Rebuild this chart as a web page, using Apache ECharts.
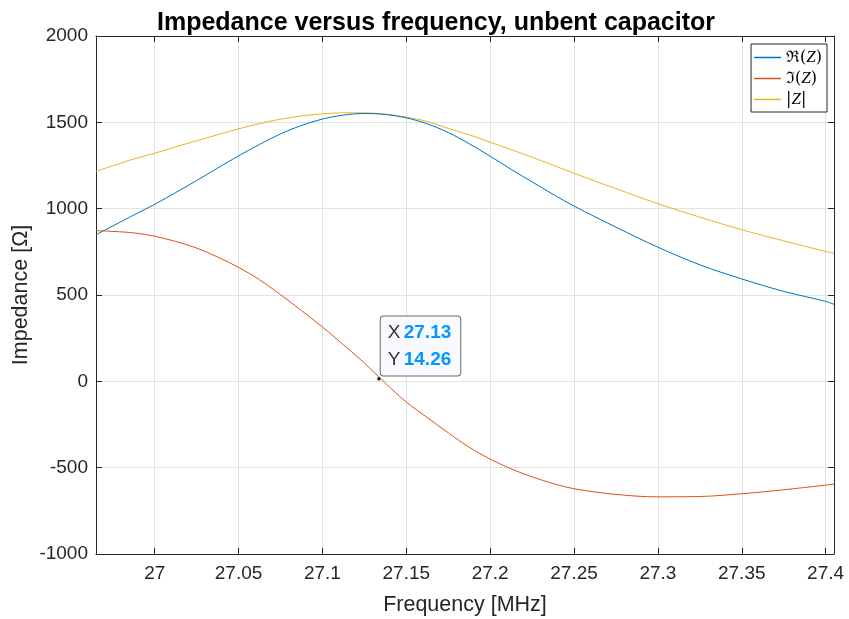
<!DOCTYPE html>
<html>
<head>
<meta charset="utf-8">
<script src="https://cdn.jsdelivr.net/npm/echarts@6/dist/echarts.min.js"></script>
<style>html,body{margin:0;padding:0;background:#fff;}#c{width:849px;height:619px;}</style>
</head>
<body>
<div id="c"></div>
<script>
const freq = [26.965, 26.9875, 27.0, 27.0125, 27.025, 27.0375, 27.05, 27.0625, 27.075, 27.0875, 27.1, 27.1125, 27.125, 27.1375, 27.15, 27.1625, 27.175, 27.1875, 27.2, 27.2125, 27.225, 27.2375, 27.25, 27.275, 27.3, 27.325, 27.35, 27.375, 27.4, 27.405];
const reZ  = [849, 963, 1025, 1093, 1163, 1235, 1306, 1372, 1433, 1482, 1519, 1542, 1551, 1546, 1526, 1491, 1441, 1376, 1304, 1228, 1155, 1083, 1015, 893, 777, 675, 593, 521, 463, 446];
const imZ  = [873, 860, 840, 810, 772, 720, 660, 588, 502, 410, 315, 212, 106, -10, -120, -210, -298, -382, -450, -507, -553, -592, -622, -655, -669, -667, -651, -628, -601, -595];
const absZ = [1216, 1288, 1321, 1358, 1393, 1428, 1462, 1493, 1518, 1537, 1549, 1555, 1555, 1547, 1530, 1505, 1465, 1428, 1385, 1342, 1298, 1252, 1205, 1116, 1029, 951, 878, 814, 752, 742];
const xTicks = [27, 27.05, 27.1, 27.15, 27.2, 27.25, 27.3, 27.35, 27.4];
const xMin = 26.965, xMax = 27.405;
const yMin = -1000, yMax = 2000, yStep = 500;
const tipX = 27.1337, tipY = 14.26;
const seriesNames = ['re', 'im', 'abs'];

const pairs = a => freq.map((f, i) => [f, a[i]]);
const font = 'Liberation Sans, Arial, Helvetica, sans-serif';
const axisColor = '#262626';
const gridColor = '#e3e3e3';

const chart = echarts.init(document.getElementById('c'), null, {renderer: 'canvas'});
chart.setOption({
  animation: false,
  backgroundColor: '#fff',
  title: {
    text: 'Impedance versus frequency, unbent capacitor',
    left: 152, top: 6,
    textStyle: {fontFamily: font, fontSize: 25, fontWeight: 'bold', color: '#000'}
  },
  grid: {left: 96, right: 15, top: 36, bottom: 65, containLabel: false, outerBoundsMode: 'none'},
  legend: {
    orient: 'vertical', right: 22, top: 44,
    backgroundColor: '#fff', borderColor: '#262626', borderWidth: 1,
    padding: [5, 5, 4, 3], itemGap: 4, itemWidth: 27, itemHeight: 1.5, icon: 'rect',
    data: seriesNames,
    formatter: n => n === 're' ? '{n|ℜ(}{i|Z}{n|)}' : n === 'im' ? '{n|ℑ(}{i|Z}{n|)}' : '{n||}{i|Z}{n||}',
    textStyle: {
      fontFamily: 'DejaVu Serif, Liberation Serif, serif', fontSize: 16, color: '#000',
      rich: {
        n: {fontFamily: 'DejaVu Serif, Liberation Serif, serif', fontSize: 16, color: '#000', lineHeight: 18},
        i: {fontFamily: 'Liberation Serif, serif', fontStyle: 'italic', fontSize: 17, color: '#000', lineHeight: 18}
      }
    }
  },
  xAxis: [{
    type: 'value', min: xMin, max: xMax, position: 'bottom',
    name: 'Frequency [MHz]', nameLocation: 'middle', nameGap: 40, nameMoveOverlap: false,
    nameTextStyle: {fontFamily: font, fontSize: 21.5, color: axisColor},
    axisLine: {show: true, onZero: false, lineStyle: {color: axisColor, width: 1}},
    axisTick: {show: true, inside: true, length: 6, customValues: xTicks, lineStyle: {color: axisColor}},
    axisLabel: {customValues: xTicks, fontFamily: font, fontSize: 19, color: axisColor, margin: 10,
      formatter: v => String(+(+v).toFixed(2))},
    splitLine: {show: true, lineStyle: {color: gridColor, width: 1}}
  }, {
    type: 'value', min: xMin, max: xMax, position: 'top',
    axisLine: {show: true, onZero: false, lineStyle: {color: axisColor, width: 1}},
    axisTick: {show: true, inside: true, length: 6, customValues: xTicks, lineStyle: {color: axisColor}},
    axisLabel: {show: false, customValues: xTicks},
    splitLine: {show: false}
  }],
  yAxis: [{
    type: 'value', min: yMin, max: yMax, interval: yStep, position: 'left',
    name: 'Impedance [Ω]', nameLocation: 'middle', nameGap: 64, nameMoveOverlap: false,
    nameTextStyle: {fontFamily: font, fontSize: 21.5, color: axisColor},
    axisLine: {show: true, onZero: false, lineStyle: {color: axisColor, width: 1}},
    axisTick: {show: true, inside: true, length: 6, lineStyle: {color: axisColor}},
    axisLabel: {fontFamily: font, fontSize: 19, color: axisColor, margin: 8, formatter: v => String(v)},
    splitLine: {show: true, lineStyle: {color: gridColor, width: 1}}
  }, {
    type: 'value', min: yMin, max: yMax, interval: yStep, position: 'right',
    axisLine: {show: true, onZero: false, lineStyle: {color: axisColor, width: 1}},
    axisTick: {show: true, inside: true, length: 6, lineStyle: {color: axisColor}},
    axisLabel: {show: false},
    splitLine: {show: false}
  }],
  series: [{
    name: 're', type: 'line', data: pairs(reZ), smooth: 0.35, symbol: 'none',
    lineStyle: {color: '#0072BD', width: 1}, itemStyle: {color: '#0072BD'}, z: 3
  }, {
    name: 'im', type: 'line', data: pairs(imZ), smooth: 0.35, symbol: 'none',
    lineStyle: {color: '#D95319', width: 1}, itemStyle: {color: '#D95319'}, z: 4,
    markPoint: {
      symbol: 'circle', symbolSize: 4,
      itemStyle: {color: '#111', borderColor: '#fff', borderWidth: 0.5},
      data: [{coord: [tipX, tipY], value: tipY}],
      label: {
        show: true, position: [4, -60],
        backgroundColor: '#f9f9ff', borderColor: '#6a6a6a', borderWidth: 1, borderRadius: 3,
        padding: [3, 9, 2, 7],
        formatter: '{k|X} {v|' + tipX.toFixed(2) + '}\n{k|Y} {v|' + tipY.toFixed(2) + '}',
        rich: {
          k: {fontFamily: font, fontSize: 19, color: '#333', lineHeight: 27},
          v: {fontFamily: font, fontSize: 19, fontWeight: 'bold', color: '#0099FF', lineHeight: 27}
        }
      }
    }
  }, {
    name: 'abs', type: 'line', data: pairs(absZ), smooth: 0.35, symbol: 'none',
    lineStyle: {color: '#EDB120', width: 1}, itemStyle: {color: '#EDB120'}, z: 2
  }]
});
</script>
</body>
</html>
